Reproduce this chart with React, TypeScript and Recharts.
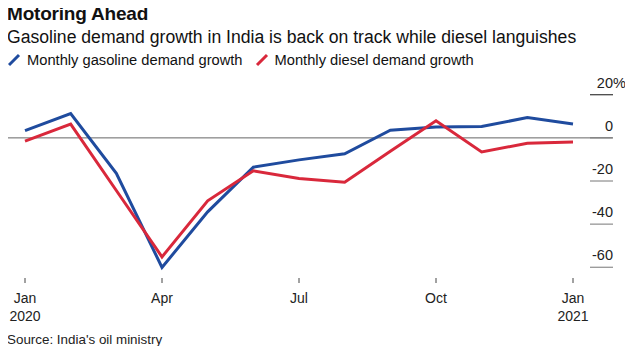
import React from "react";
import { LineChart, Line, XAxis, YAxis, ReferenceLine } from "recharts";

const months = ["Jan", "Feb", "Mar", "Apr", "May", "Jun", "Jul", "Aug", "Sep", "Oct", "Nov", "Dec", "Jan"];
const gasoline = [3.4, 11.3, -16.4, -60.1, -34.3, -13.6, -10.2, -7.4, 3.6, 5.0, 5.3, 9.4, 6.4];
const diesel = [-1.5, 6.4, -24.4, -55.2, -29.2, -15.3, -18.8, -20.6, -6.2, 7.9, -6.5, -2.5, -1.9];
const xTicks = [0, 3, 6, 9, 12];
const yTicks = [20, 0, -20, -40, -60];
const yearLabels: Record<number, string> = { 0: "2020", 12: "2021" };

const BLUE = "#1f4b9e";
const RED = "#d9283b";
const FONT = "'Liberation Sans', Arial, Helvetica, sans-serif";

const data = months.map((m, i) => ({ i, month: m, gasoline: gasoline[i], diesel: diesel[i] }));

const XTick = ({ x, y, payload }: any) => {
  const idx = payload.value;
  return (
    <g>
      <text x={x} y={y + 18} textAnchor="middle" fontSize={14} fill="#222" fontFamily={FONT}>
        {months[idx]}
      </text>
      {yearLabels[idx] && (
        <text x={x} y={y + 36} textAnchor="middle" fontSize={14} fill="#222" fontFamily={FONT}>
          {yearLabels[idx]}
        </text>
      )}
    </g>
  );
};

const YTick = ({ x, y, payload }: any) => {
  const v = payload.value;
  return (
    <g>
      <line x1={x + 17} x2={x + 40} y1={y} y2={y} stroke={v === 20 ? "#111" : "#777"} strokeWidth={1} />
      <text x={x + 40} y={y - 7} textAnchor="end" fontSize={14.5} fill="#222" fontFamily={FONT}>
        {v}
      </text>
      {v === 20 && (
        <text x={x + 40} y={y - 7} textAnchor="start" fontSize={14.5} fill="#222" fontFamily={FONT}>
          %
        </text>
      )}
    </g>
  );
};

const Slash = ({ color }: { color: string }) => (
  <svg width={14} height={14} style={{ verticalAlign: "-2px", marginRight: 6 }}>
    <line x1={2} y1={12} x2={12} y2={2} stroke={color} strokeWidth={3} />
  </svg>
);

export default function App() {
  return (
    <div style={{ position: "relative", width: 633, height: 354, margin: -8, background: "#fff", fontFamily: FONT, color: "#111" }}>
      <div style={{ position: "absolute", left: 7, top: 3, fontSize: 19, fontWeight: "bold", letterSpacing: -0.2 }}>Motoring Ahead</div>
      <div style={{ position: "absolute", left: 7, top: 27, fontSize: 17.6 }}>
        Gasoline demand growth in India is back on track while diesel languishes
      </div>
      <div style={{ position: "absolute", left: 7, top: 52, fontSize: 14.7, whiteSpace: "nowrap" }}>
        <Slash color={BLUE} />
        Monthly gasoline demand growth
        <span style={{ marginLeft: 12 }} />
        <Slash color={RED} />
        Monthly diesel demand growth
      </div>
      <div style={{ position: "absolute", left: 7, top: 332, fontSize: 13.4, color: "#222" }}>Source: India's oil ministry</div>
      <LineChart
        width={633}
        height={354}
        data={data}
        margin={{ top: 84, right: 0, bottom: 36, left: 25 }}
        style={{ position: "absolute", left: 0, top: 0 }}
      >
        <XAxis
          dataKey="i"
          type="number"
          domain={[0, 12]}
          ticks={xTicks}
          axisLine={false}
          tickLine={{ stroke: "#444" }}
          tickSize={5}
          height={40}
          tick={<XTick />}
          interval={0}
        />
        <YAxis
          orientation="right"
          domain={[-65, 25]}
          ticks={yTicks}
          axisLine={false}
          tickLine={false}
          tickSize={0}
          tickMargin={0}
          width={60}
          tick={<YTick />}
          interval={0}
        />
        <ReferenceLine
          segment={[{ x: -0.39, y: 0 }, { x: 12.87, y: 0 }]}
          ifOverflow="visible"
          stroke="#666"
          strokeWidth={1}
        />
        <Line type="linear" dataKey="gasoline" stroke={BLUE} strokeWidth={3} dot={false} isAnimationActive={false} />
        <Line type="linear" dataKey="diesel" stroke={RED} strokeWidth={3} dot={false} isAnimationActive={false} />
      </LineChart>
    </div>
  );
}
